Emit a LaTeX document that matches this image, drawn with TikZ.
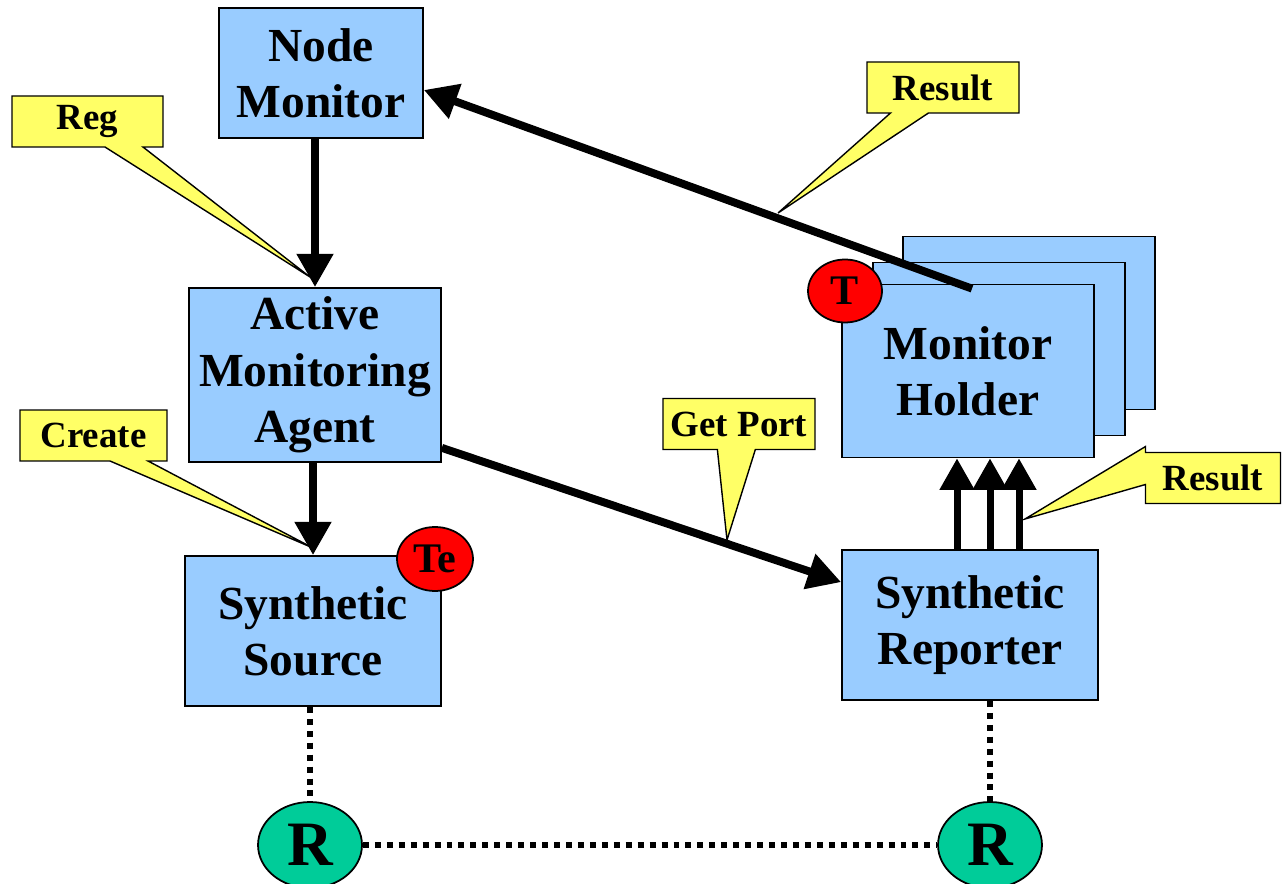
\documentclass[tikz,border=0pt]{standalone}
\usepackage{fontspec}
\setmainfont{Liberation Serif}
\usetikzlibrary{arrows.meta,shapes.geometric,shapes.callouts}
\definecolor{boxblue}{HTML}{99CCFF}
\definecolor{noteyellow}{HTML}{FFFF66}
\definecolor{tokenred}{HTML}{FF0000}
\definecolor{relaygreen}{HTML}{00CC99}

\begin{document}
\begin{tikzpicture}[x=0.02cm,y=-0.02cm,
    agent/.style={rectangle,draw,line width=1pt,fill=boxblue,align=center,inner sep=0pt,
        font=\fontsize{27}{32}\selectfont\bfseries},
    note/.style={rectangle callout,draw,line width=0.8pt,fill=noteyellow,inner sep=0pt,
        minimum height=1.02cm,callout pointer width=0.76cm,
        font=\fontsize{21}{24}\selectfont\bfseries},
    tag/.style={ellipse,draw,line width=1pt,fill=tokenred,inner sep=0pt,
        minimum width=1.48cm,minimum height=1.26cm,font=\fontsize{24}{28}\selectfont\bfseries},
    relay/.style={ellipse,draw,line width=1pt,fill=relaygreen,inner sep=0pt,
        minimum width=2.08cm,minimum height=1.72cm,font=\fontsize{36}{40}\selectfont\bfseries},
    flow/.style={-{Triangle[width=20pt,length=19pt]},line width=4.5pt},
    push/.style={-{Triangle[width=19pt,length=18pt]},line width=4pt},
    link/.style={line width=3.2pt,dash pattern=on 3.4pt off 3.4pt}]
    \useasboundingbox (0,0) rectangle (1284,884);

    % boxes
    \node[agent,minimum width=4.08cm,minimum height=2.6cm] (nm) at (321,73) {Node\\Monitor};
    \node[agent,minimum width=5.04cm,minimum height=3.48cm] (ama) at (315,375) {Active\\Monitoring\\Agent};
    \node[agent,minimum width=5.12cm,minimum height=3cm] (src) at (313,631) {Synthetic\\Source};
    \node[agent,minimum width=5.12cm,minimum height=3cm] (rep) at (970,625) {Synthetic\\Reporter};
    \node[agent,minimum width=5.04cm,minimum height=3.46cm] (mh3) at (1029,323) {};
    \node[agent,minimum width=5.04cm,minimum height=3.46cm] (mh2) at (999,349) {};
    \node[agent,minimum width=5.04cm,minimum height=3.46cm] (mh) at (968,371) {Monitor\\Holder};

    % relays
    \node[relay] (r1) at (310,845) {R};
    \node[relay] (r2) at (990,845) {R};

    % arrows
    \draw[flow] (nm.south -| ama.north) -- (ama.north);
    \draw[flow] (ama.south -| src.north) -- (src.north);
    \draw[flow] ([yshift=0.3cm]ama.south east) -- ([yshift=-0.66cm]rep.north west);
    \draw[flow] ([xshift=0.08cm,yshift=-0.1cm]mh.north) -- ([yshift=-0.34cm]nm.east);
    \foreach \px in {957,990,1019}
        \draw[push] (rep.north -| \px,0) -- (mh.south -| \px,0);

    \draw[link] (r1.north |- src.south) -- (r1.north);
    \draw[link] (r2.north |- rep.south) -- (r2.north);
    \draw[link] (r1.east) -- (r2.west);

    % tags
    \node[tag] (t) at (845,291) {T};
    \node[tag,minimum width=1.52cm,minimum height=1.28cm] (te) at (435,559) {Te};

    % callouts
    \coordinate (regtip) at (310,277);
    \coordinate (createtip) at (313,548);
    \coordinate (porttip) at (727,540);
    \coordinate (restip) at (778,213);
    \coordinate (pushtip) at (1025,519);
    \node[note,minimum width=3.02cm,callout absolute pointer={(regtip)}] (reg) at (87.5,121.5) {Reg};
    \node[note,minimum width=2.94cm,callout absolute pointer={(createtip)}] (create) at (93.5,435.5) {Create};
    \node[note,minimum width=3.04cm,callout absolute pointer={(porttip)}] (port) at (739,424) {Get Port};
    \node[note,minimum width=3.04cm,callout absolute pointer={(restip)}] (res) at (943,87.5) {Result};
    \node[note,minimum width=2.7cm,callout absolute pointer={(pushtip)}] (respush) at (1213,478) {Result};
\end{tikzpicture}
\end{document}
